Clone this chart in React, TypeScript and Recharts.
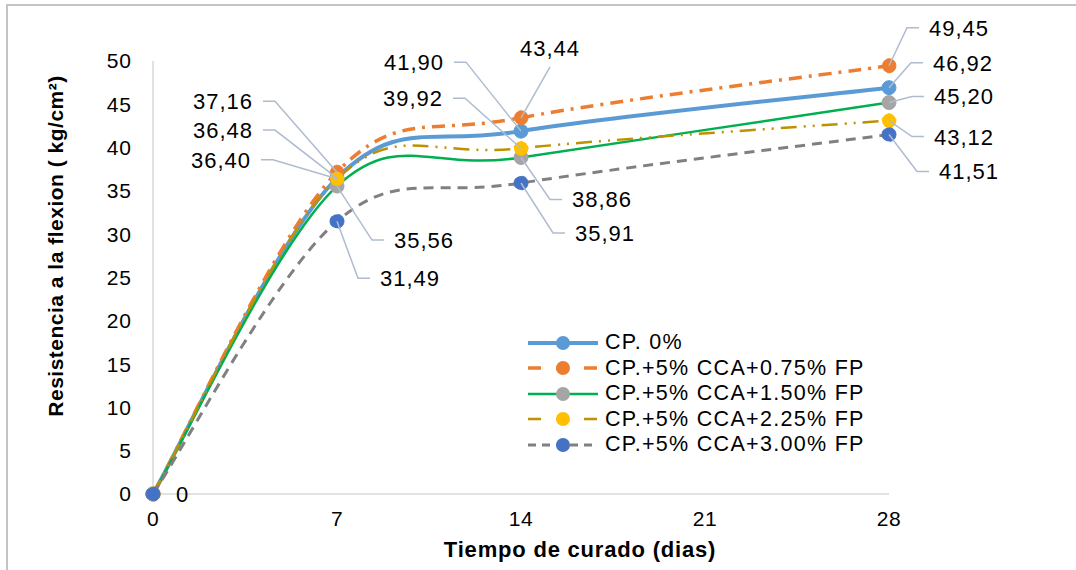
import React from 'react'
import { LineChart, Line, XAxis, YAxis, Legend, LabelList, Label } from 'recharts'

// days of curing
const days = [0, 7, 14, 28]
const xTicks = [0, 7, 14, 21, 28]
const yTicks = [0, 5, 10, 15, 20, 25, 30, 35, 40, 45, 50]

// flexural strength (kg/cm2) per mix
const cp0 = [0, 36.48, 41.9, 46.92]
const cca075 = [0, 37.16, 43.44, 49.45]
const cca150 = [0, 35.56, 38.86, 45.2]
const cca225 = [0, 36.4, 39.92, 43.12]
const cca300 = [0, 31.49, 35.91, 41.51]

const seriesNames = [
  'CP. 0%',
  'CP.+5% CCA+0.75% FP',
  'CP.+5% CCA+1.50% FP',
  'CP.+5% CCA+2.25% FP',
  'CP.+5% CCA+3.00% FP',
]

const rows = days.map((d, i) => ({
  day: d,
  s0: cp0[i],
  s1: cca075[i],
  s2: cca150[i],
  s3: cca225[i],
  s4: cca300[i],
}))

// look of each series
const styles = [
  { line: '#5B9BD5', dot: '#5B9BD5', width: 4, dash: undefined },
  { line: '#ED7D31', dot: '#ED7D31', width: 3.5, dash: '13 7 3 7' },
  { line: '#00B050', dot: '#A5A5A5', width: 2.5, dash: undefined },
  { line: '#BF9000', dot: '#FFC000', width: 2.5, dash: '16 7 2 7 2 7' },
  { line: '#808080', dot: '#4472C4', width: 3, dash: '10 7' },
]

// callout placement: [dx, dy, side] relative to the point; null = no label
type Callout = [number, number, 'L' | 'R' | 'T' | 'N'] | null
const callouts: Callout[][] = [
  [null, [-84, -48, 'L'], [-77, -69, 'L'], [44, -25, 'R']],
  [null, [-84, -71, 'L'], [29, -70, 'T'], [40, -38, 'R']],
  [null, [57, 54, 'R'], [51, 42, 'R'], [45, -6, 'R']],
  [null, [-86, -19, 'L'], [-78, -50, 'L'], [45, 16, 'R']],
  [[23, 0, 'N'], [43, 57, 'R'], [54, 50, 'R'], [50, 37, 'R']],
]

const FONT = '"Liberation Sans", Arial, sans-serif'
const LEADER = '#AFBCD0'

// Excel style smoothed line (Catmull-Rom as cubic beziers)
function excelSmooth(context: any) {
  let pts: [number, number][] = []
  return {
    areaStart() {},
    areaEnd() {},
    lineStart() {
      pts = []
    },
    point(x: number, y: number) {
      pts.push([+x, +y])
    },
    lineEnd() {
      const n = pts.length
      if (!n) return
      context.moveTo(pts[0][0], pts[0][1])
      for (let i = 0; i < n - 1; i++) {
        const p0 = pts[Math.max(i - 1, 0)]
        const p1 = pts[i]
        const p2 = pts[i + 1]
        const p3 = pts[Math.min(i + 2, n - 1)]
        context.bezierCurveTo(
          p1[0] + (p2[0] - p0[0]) / 6,
          p1[1] + (p2[1] - p0[1]) / 6,
          p2[0] - (p3[0] - p1[0]) / 6,
          p2[1] - (p3[1] - p1[1]) / 6,
          p2[0],
          p2[1]
        )
      }
    },
  }
}

const fmt = (v: number) => (v === 0 ? '0' : v.toFixed(2).replace('.', ','))

const makeCallout = (s: number) => (props: any) => {
  const { x, y, value, index } = props
  const c = callouts[s][index]
  if (!c) return null
  const [dx, dy, side] = c
  const tx = x + dx
  const ty = y + dy
  const text = (anchor: string, ax: number) => (
    <text
      x={ax}
      y={ty}
      dy="0.36em"
      textAnchor={anchor}
      fontSize={22}
      letterSpacing={1}
      fill="#000"
      fontFamily={FONT}
    >
      {fmt(value)}
    </text>
  )
  if (side === 'N') return <g>{text('start', tx)}</g>
  if (side === 'T') {
    return (
      <g>
        <line x1={x} y1={y} x2={tx} y2={ty + 19} stroke={LEADER} strokeWidth={1.5} />
        {text('middle', tx)}
      </g>
    )
  }
  const sign = side === 'L' ? 1 : -1
  const near = tx + sign * 10
  const far = tx + sign * 22
  return (
    <g>
      <polyline
        points={`${x},${y} ${far},${ty} ${near},${ty}`}
        fill="none"
        stroke={LEADER}
        strokeWidth={1.5}
      />
      {text(side === 'L' ? 'end' : 'start', tx)}
    </g>
  )
}

const renderLegend = () => (
  <div style={{ fontFamily: FONT }}>
    {seriesNames.map((name, i) => (
      <div key={name} style={{ display: 'flex', alignItems: 'center', height: 25.5 }}>
        <svg width={72} height={20} style={{ display: 'block' }}>
          <line
            x1={0}
            y1={10}
            x2={70}
            y2={10}
            stroke={styles[i].line}
            strokeWidth={styles[i].width}
            strokeDasharray={i === 0 || i === 2 ? undefined : i === 4 ? '8 6' : '13 15'}
          />
          <circle cx={35} cy={10} r={7} fill={styles[i].dot} />
        </svg>
        <span style={{ marginLeft: 5, fontSize: 21.5, letterSpacing: 1.3, color: '#000', whiteSpace: 'nowrap' }}>
          {name}
        </span>
      </div>
    ))}
  </div>
)

export default function App() {
  return (
    <div
      style={{
        position: 'absolute',
        left: 0,
        top: 0,
        width: 1076,
        height: 570,
        overflow: 'hidden',
        background: '#fff',
      }}
    >
      <div
        style={{
          position: 'absolute',
          left: 6,
          top: 4,
          width: 1200,
          height: 700,
          border: '2px solid #C4C4C4',
        }}
      />
      <div style={{ position: 'absolute', left: 0, top: 0 }}>
        <LineChart width={1076} height={570} data={rows} margin={{ top: 61, right: 187, bottom: 0, left: 0 }}>
          <XAxis
            dataKey="day"
            type="number"
            domain={[0, 28]}
            ticks={xTicks}
            height={76}
            axisLine={{ stroke: '#D9D9D9', strokeWidth: 1.5 }}
            tickLine={false}
            tickSize={0}
            tickMargin={17}
            tick={{ fill: '#000', fontSize: 21, fontFamily: FONT, letterSpacing: 0.5 }}
          >
            <Label
              content={(p: any) => (
                <text
                  x={580}
                  y={p.viewBox.y + 55}
                  dy="0.36em"
                  textAnchor="middle"
                  fontSize={22}
                  fontWeight="bold"
                  letterSpacing={0.8}
                  fontFamily={FONT}
                  fill="#000"
                >
                  Tiempo de curado (dias)
                </text>
              )}
            />
          </XAxis>
          <YAxis
            type="number"
            domain={[0, 50]}
            ticks={yTicks}
            width={153}
            axisLine={{ stroke: '#D9D9D9', strokeWidth: 1.5 }}
            tickLine={false}
            tickSize={0}
            tickMargin={21}
            tick={{ fill: '#000', fontSize: 21, fontFamily: FONT, letterSpacing: 1 }}
          >
            <Label
              content={() => (
                <text
                  x={55}
                  y={246}
                  dy="0.36em"
                  textAnchor="middle"
                  transform="rotate(-90 55 246)"
                  fontSize={21}
                  fontWeight="bold"
                  letterSpacing={0.5}
                  fontFamily={FONT}
                  fill="#000"
                >
                  Resistencia a la flexion ( kg/cm²)
                </text>
              )}
            />
          </YAxis>
          <Legend
            content={renderLegend}
            layout="horizontal"
            align="center"
            verticalAlign="middle"
            wrapperStyle={{ position: 'absolute', left: 528, top: 330, width: 360, height: 130 }}
          />
          {styles.map((st, i) => (
            <Line
              key={i}
              dataKey={`s${i}`}
              name={seriesNames[i]}
              type={excelSmooth as any}
              stroke={st.line}
              strokeWidth={st.width}
              strokeDasharray={st.dash}
              dot={{ r: 7, fill: st.dot, stroke: st.dot, strokeWidth: 1 }}
              activeDot={false}
              isAnimationActive={false}
            >
              <LabelList dataKey={`s${i}`} content={makeCallout(i)} />
            </Line>
          ))}
        </LineChart>
      </div>
    </div>
  )
}
